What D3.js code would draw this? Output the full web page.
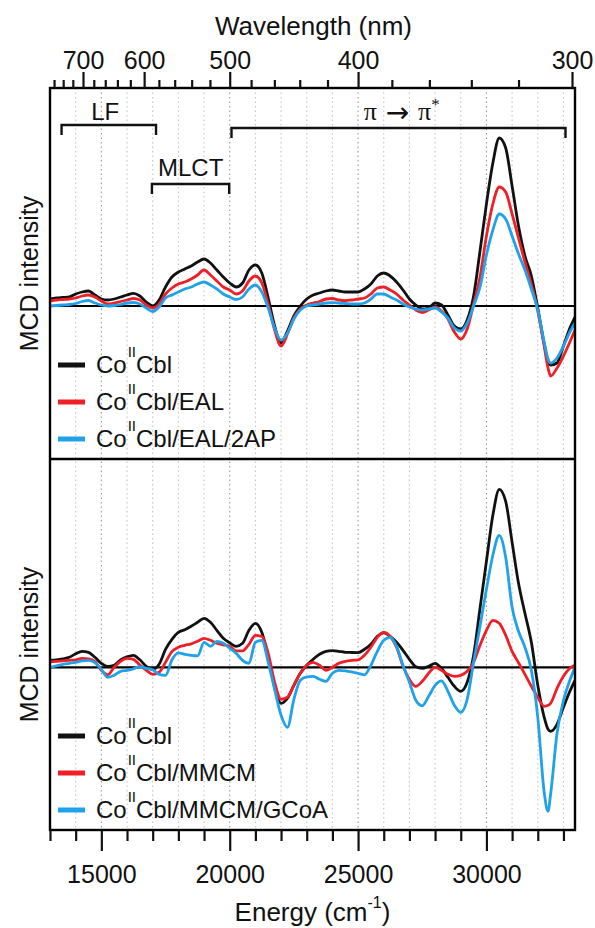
<!DOCTYPE html>
<html>
<head>
<meta charset="utf-8">
<script src="https://cdn.jsdelivr.net/npm/d3@7"></script>
<style>
  html, body { margin: 0; padding: 0; background: #fff; }
  svg { display: block; }
  text { font-family: "Liberation Sans", Arial, Helvetica, sans-serif; fill: #111; }
</style>
</head>
<body>
<svg id="chart" width="595" height="928"></svg>
<script>
// Shared energy grid (cm^-1) for all MCD spectra
const energy = [
  13000, 13250, 13500, 13750,
  14000, 14250, 14500, 14750,
  15000, 15250, 15500, 15750,
  16000, 16250, 16500, 16750,
  17000, 17250, 17500, 17750,
  18000, 18250, 18500, 18750,
  19000, 19250, 19500, 19750,
  20000, 20250, 20500, 20750,
  21000, 21250, 21500, 21750,
  22000, 22250, 22500, 22750,
  23000, 23250, 23500, 23750,
  24000, 24250, 24500, 24750,
  25000, 25250, 25500, 25750,
  26000, 26250, 26500, 26750,
  27000, 27250, 27500, 27750,
  28000, 28250, 28500, 28750,
  29000, 29250, 29500, 29750,
  30000, 30250, 30500, 30750,
  31000, 31250, 31500, 31750,
  32000, 32250, 32400, 32500,
  32750, 33000, 33250, 33450
];

// Upper panel: Co(II)Cbl, +EAL, +EAL/2AP (arbitrary MCD units)
const topCbl = [
  0.07, 0.08, 0.085, 0.09,
  0.12, 0.14, 0.15, 0.11,
  0.07, 0.06, 0.07, 0.09,
  0.11, 0.127, 0.10, 0.04,
  0.0, 0.06, 0.19, 0.29,
  0.34, 0.37, 0.40, 0.44,
  0.47, 0.43, 0.36, 0.29,
  0.23, 0.19, 0.23, 0.36,
  0.41, 0.33, 0.08, -0.20,
  -0.37, -0.25, -0.10, 0.0,
  0.07, 0.11, 0.13, 0.15,
  0.16, 0.15, 0.14, 0.14,
  0.14, 0.17, 0.22, 0.30,
  0.33, 0.30, 0.24, 0.16,
  0.07, 0.01, -0.03, -0.02,
  0.03, 0.01, -0.09, -0.20,
  -0.23, -0.14, 0.10, 0.55,
  1.02, 1.43, 1.68, 1.58,
  1.20, 0.80, 0.50, 0.30,
  -0.02, -0.38, -0.56, -0.59,
  -0.57, -0.40, -0.22, -0.11
];
const topEAL = [
  0.05, 0.06, 0.065, 0.07,
  0.08, 0.10, 0.11, 0.09,
  0.05, 0.02, 0.03, 0.045,
  0.06, 0.075, 0.06, 0.01,
  -0.02, 0.02, 0.12, 0.18,
  0.22, 0.24, 0.27, 0.31,
  0.36, 0.31, 0.25, 0.19,
  0.16, 0.12, 0.15, 0.25,
  0.30, 0.23, 0.02, -0.24,
  -0.40, -0.28, -0.12, -0.03,
  0.01, 0.03, 0.045, 0.07,
  0.075, 0.06, 0.053, 0.06,
  0.07, 0.08, 0.12, 0.18,
  0.19, 0.16, 0.12, 0.06,
  0.01, -0.04, -0.065, -0.04,
  -0.01, -0.05, -0.13, -0.26,
  -0.33, -0.23, 0.02, 0.29,
  0.70, 1.02, 1.19, 1.14,
  0.92, 0.68, 0.44, 0.22,
  -0.05, -0.40, -0.62, -0.70,
  -0.62, -0.50, -0.36, -0.24
];
const topEAL2AP = [
  0.0, 0.005, 0.01, 0.015,
  0.025, 0.045, 0.055, 0.03,
  0.01, 0.0, 0.005, 0.015,
  0.03, 0.035, 0.02, -0.02,
  -0.055, -0.01, 0.08, 0.11,
  0.14, 0.17, 0.19, 0.22,
  0.24, 0.21, 0.17, 0.12,
  0.09, 0.065, 0.09, 0.17,
  0.21, 0.14, -0.02, -0.22,
  -0.34, -0.27, -0.13, -0.04,
  0.0, 0.01, 0.02, 0.03,
  0.033, 0.03, 0.025, 0.02,
  0.02, 0.03, 0.07, 0.12,
  0.12, 0.09, 0.06, 0.02,
  -0.01, -0.03, -0.04, -0.03,
  -0.02, -0.06, -0.12, -0.22,
  -0.25, -0.17, 0.0, 0.19,
  0.51, 0.76, 0.92, 0.87,
  0.70, 0.52, 0.36, 0.17,
  -0.04, -0.36, -0.53, -0.57,
  -0.52, -0.40, -0.26, -0.17
];

// Lower panel: Co(II)Cbl, +MMCM, +MMCM/GCoA
const botCbl = [
  0.07, 0.075, 0.085, 0.10,
  0.135, 0.16, 0.15, 0.10,
  0.04, 0.008, 0.02, 0.075,
  0.105, 0.12, 0.075, 0.01,
  -0.02, 0.03, 0.18, 0.28,
  0.35, 0.375, 0.41, 0.45,
  0.49, 0.45, 0.37, 0.29,
  0.245, 0.21, 0.24, 0.37,
  0.44, 0.35, 0.10, -0.20,
  -0.36, -0.31, -0.18, -0.06,
  0.02, 0.08, 0.13, 0.16,
  0.167, 0.16, 0.15, 0.148,
  0.147, 0.18, 0.23, 0.31,
  0.345, 0.31, 0.25, 0.17,
  0.08, 0.005, -0.01, 0.01,
  0.04, -0.01, -0.10, -0.19,
  -0.24, -0.15, 0.12, 0.59,
  1.06, 1.52, 1.78, 1.66,
  1.25, 0.84, 0.54, 0.25,
  -0.18, -0.50, -0.62, -0.64,
  -0.57, -0.40, -0.24, -0.13
];
const botMMCM = [
  0.055, 0.06, 0.065, 0.07,
  0.075, 0.09, 0.085, 0.057,
  -0.03, -0.075, 0.0, 0.06,
  0.09, 0.08, 0.023, -0.03,
  -0.07, -0.05, 0.05, 0.157,
  0.20, 0.22, 0.235, 0.26,
  0.29, 0.27, 0.24, 0.225,
  0.21, 0.165, 0.165, 0.23,
  0.32, 0.31, 0.14, -0.15,
  -0.32, -0.30, -0.18, -0.06,
  0.02, 0.05, 0.02, -0.03,
  0.0, 0.04, 0.06, 0.07,
  0.075, 0.12, 0.20, 0.30,
  0.35, 0.31, 0.20, 0.01,
  -0.12, -0.19, -0.14, -0.06,
  0.0, -0.03, -0.07, -0.09,
  -0.08, -0.04, 0.05, 0.22,
  0.37, 0.47, 0.44, 0.32,
  0.16, 0.045, -0.07, -0.19,
  -0.30, -0.39, -0.38, -0.36,
  -0.21, -0.09, -0.01, 0.02
];
const botMMCMGCoA = [
  0.0, 0.015, 0.03, 0.04,
  0.05, 0.065, 0.07, 0.047,
  -0.02, -0.10, -0.08, -0.04,
  -0.03, -0.015, 0.007, -0.01,
  -0.025, -0.07, -0.08, 0.075,
  0.145, 0.13, 0.12, 0.115,
  0.25, 0.21, 0.26, 0.24,
  0.19, 0.14, 0.07, 0.04,
  0.25, 0.27, 0.05, -0.22,
  -0.48, -0.60, -0.32, -0.13,
  -0.095, -0.09, -0.12, -0.14,
  -0.06, -0.03, -0.035, -0.045,
  -0.06, -0.075, 0.02, 0.16,
  0.27, 0.30, 0.21, 0.02,
  -0.15, -0.33, -0.385, -0.29,
  -0.18, -0.135, -0.24, -0.38,
  -0.45, -0.32, 0.05, 0.41,
  0.78, 1.12, 1.32, 1.10,
  0.60, 0.36, 0.20, -0.03,
  -0.50, -1.25, -1.44, -1.27,
  -0.66, -0.33, -0.13, 0.0
];

// Legend labels (shown as Co^II + suffix)
const topLabels = ["Cbl", "Cbl/EAL", "Cbl/EAL/2AP"];
const botLabels = ["Cbl", "Cbl/MMCM", "Cbl/MMCM/GCoA"];

// Axis ticks
const energyMajor = [15000, 20000, 25000, 30000];
const energyMinor = [13000, 14000, 16000, 17000, 18000, 19000, 21000, 22000, 23000, 24000,
                     26000, 27000, 28000, 29000, 31000, 32000, 33000];
const wlMajor = [700, 600, 500, 400, 300];
const wlMinor = [760, 740, 720, 680, 660, 640, 620, 580, 560, 540, 520,
                 480, 460, 440, 420, 380, 360, 340, 320];

// Spectral region brackets (cm^-1)
const regionNames = ["LF", "MLCT", "\u03c0"];
const regionFrom = [13450, 16970, 20070];
const regionTo = [17130, 19980, 33080];
const regionLabelAt = [15150, 18480, 26700];

// ---------- drawing ----------
const colors = ["#111111", "#ee1f26", "#20a2ea"];
const L = 50, R = 575, T = 88, M = 459, B = 830;

const svg = d3.select("#chart");
const x = d3.scaleLinear().domain([13000, 33450]).range([L, R]);

const panels = [
  { top: T, bottom: M, domain: [-1.53, 2.18], series: [topCbl, topEAL, topEAL2AP], labels: topLabels, legendY: 365 },
  { top: M, bottom: B, domain: [-1.627, 2.083], series: [botCbl, botMMCM, botMMCMGCoA], labels: botLabels, legendY: 736 }
];

// Vertical dotted grid every 1000 cm^-1
const gridVals = d3.range(14000, 33001, 1000);
svg.append("g").selectAll("line").data(gridVals).join("line")
  .attr("x1", d => x(d)).attr("x2", d => x(d))
  .attr("y1", T).attr("y2", B)
  .attr("stroke", d => d % 5000 === 0 ? "#9a9a9a" : "#c4c4c4")
  .attr("stroke-width", 1.1)
  .attr("stroke-dasharray", "1.5,3");

panels.forEach(p => {
  const y = d3.scaleLinear().domain(p.domain).range([p.bottom, p.top]);
  const g = svg.append("g");

  // zero line
  g.append("line")
    .attr("x1", L).attr("x2", R)
    .attr("y1", y(0)).attr("y2", y(0))
    .attr("stroke", "#000").attr("stroke-width", 2.2);

  const line = d3.line()
    .x((d, i) => x(energy[i]))
    .y(d => y(d))
    .curve(d3.curveMonotoneX);

  p.series.forEach((s, k) => {
    g.append("path")
      .attr("d", line(s))
      .attr("fill", "none")
      .attr("stroke", colors[k])
      .attr("stroke-width", 2.8)
      .attr("stroke-linejoin", "round");
  });

  // legend
  const lg = g.append("g");
  p.labels.forEach((lab, k) => {
    const ly = p.legendY + k * 37;
    lg.append("line")
      .attr("x1", 58).attr("x2", 85)
      .attr("y1", ly).attr("y2", ly)
      .attr("stroke", colors[k]).attr("stroke-width", 5);
    const t = lg.append("text")
      .attr("x", 96).attr("y", ly + 8)
      .attr("font-size", 24);
    t.append("tspan").text("Co");
    t.append("tspan").attr("font-size", 15).attr("dy", -16).attr("dx", 1).text("II");
    t.append("tspan").attr("dy", 16).text(lab);
  });

  // y-axis title
  svg.append("text")
    .attr("transform", `translate(38,${(p.top + p.bottom) / 2}) rotate(-90)`)
    .attr("text-anchor", "middle")
    .attr("font-size", 25)
    .text("MCD intensity");
});

// Region brackets
const bracketY = [125, 184, 128];
const labelY = [120, 176, 120];
regionNames.forEach((name, i) => {
  const x1 = x(regionFrom[i]), x2 = x(regionTo[i]), by = bracketY[i];
  svg.append("path")
    .attr("d", `M${x1},${by + 10}V${by}H${x2}V${by + 10}`)
    .attr("fill", "none").attr("stroke", "#111").attr("stroke-width", 2.4);
  const t = svg.append("text")
    .attr("x", x(regionLabelAt[i]))
    .attr("y", labelY[i])
    .attr("text-anchor", "middle")
    .attr("font-size", 24);
  if (i === 2) {
    const serif = "'Liberation Serif', 'Times New Roman', serif";
    t.append("tspan").style("font-family", serif).attr("font-size", 26).text(name);
    t.append("tspan").style("font-family", "'DejaVu Sans', sans-serif")
      .attr("font-size", 28).attr("dy", 2).text(" \u2192 ");
    t.append("tspan").style("font-family", serif).attr("font-size", 26).attr("dy", -2).text(name);
    t.append("tspan").style("font-family", serif).attr("font-size", 17).attr("dy", -10).text("*");
  } else {
    t.text(name);
  }
});

// Frame
svg.append("rect")
  .attr("x", L).attr("y", T).attr("width", R - L).attr("height", B - T)
  .attr("fill", "none").attr("stroke", "#000").attr("stroke-width", 2.4);
svg.append("line")
  .attr("x1", L).attr("x2", R).attr("y1", M).attr("y2", M)
  .attr("stroke", "#000").attr("stroke-width", 2.4);

function styleAxis(g, fs) {
  g.select(".domain").remove();
  g.selectAll(".tick line").attr("stroke", "#111").attr("stroke-width", 2.2);
  g.selectAll(".tick text").attr("font-size", fs).attr("fill", "#111")
    .attr("font-family", "'Liberation Sans', Arial, sans-serif");
}

// Bottom energy axis
const bMajor = svg.append("g").attr("transform", `translate(0,${B})`)
  .call(d3.axisBottom(x).tickValues(energyMajor).tickFormat(d3.format("d")).tickSize(21).tickPadding(14));
styleAxis(bMajor, 25);
const bMinor = svg.append("g").attr("transform", `translate(0,${B})`)
  .call(d3.axisBottom(x).tickValues(energyMinor).tickFormat("").tickSize(11));
styleAxis(bMinor, 25);

// Top wavelength axis (nm -> cm^-1)
const topMajor = svg.append("g").attr("transform", `translate(0,${T})`)
  .call(d3.axisTop(x).tickValues(wlMajor.map(w => 1e7 / w))
    .tickFormat(d => Math.round(1e7 / d)).tickSize(16).tickPadding(3));
styleAxis(topMajor, 25);
const topMinor = svg.append("g").attr("transform", `translate(0,${T})`)
  .call(d3.axisTop(x).tickValues(wlMinor.map(w => 1e7 / w)).tickFormat("").tickSize(8));
styleAxis(topMinor, 25);

// Axis titles
svg.append("text")
  .attr("x", (L + R) / 2 + 1).attr("y", 35)
  .attr("text-anchor", "middle").attr("font-size", 26)
  .text("Wavelength (nm)");
const et = svg.append("text")
  .attr("x", (L + R) / 2).attr("y", 921)
  .attr("text-anchor", "middle").attr("font-size", 26);
et.append("tspan").text("Energy (cm");
et.append("tspan").attr("font-size", 16).attr("dy", -13).text("-1");
et.append("tspan").attr("dy", 13).text(")");
</script>
</body>
</html>
